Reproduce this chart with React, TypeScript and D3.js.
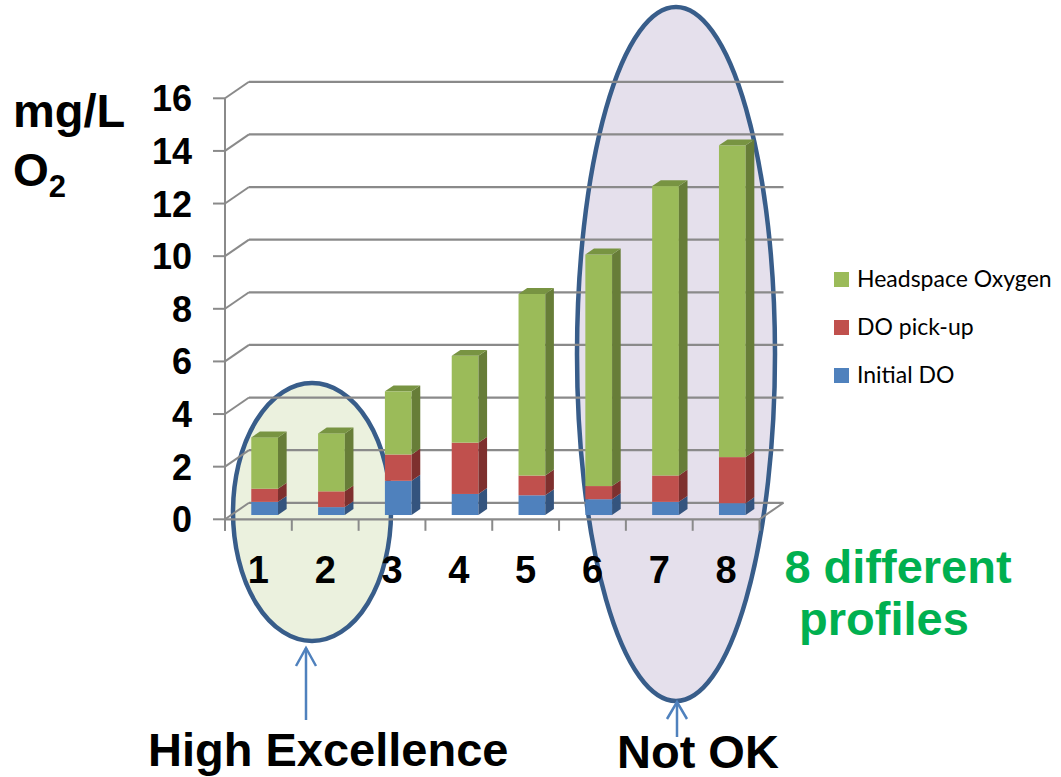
import React from "react";
import * as d3 from "d3";

// Profiles and their stacked oxygen components (mg/L O2)
const categories = ["1", "2", "3", "4", "5", "6", "7", "8"];
const initialDO = [0.5, 0.3, 1.3, 0.8, 0.75, 0.6, 0.5, 0.45];
const doPickup = [0.5, 0.6, 1.0, 1.95, 0.75, 0.5, 1.0, 1.75];
const headspaceO2 = [1.95, 2.2, 2.4, 3.3, 6.9, 8.8, 11.0, 11.85];
const yTicks = [0, 2, 4, 6, 8, 10, 12, 14, 16];
const seriesKeys = ["initial", "pickup", "headspace"];
const seriesNames = ["Initial DO", "DO pick-up", "Headspace Oxygen"];

const COLORS: Record<string, { front: string; side: string; top: string }> = {
  initial: { front: "#4F81BD", side: "#34547E", top: "#3F6A9E" },
  pickup: { front: "#C0504D", side: "#7E302E", top: "#A03F3C" },
  headspace: { front: "#9BBB59", side: "#677D38", top: "#789442" },
};

const rows = categories.map((c, i) => ({
  cat: c,
  initial: initialDO[i],
  pickup: doPickup[i],
  headspace: headspaceO2[i],
}));

// 3D frame geometry
const X0 = 225;
const X1 = 759.5;
const DEPTH_X = 24;
const DEPTH_Y = -16.5;
const BAR_F0 = 0.26;
const BAR_F1 = 0.62;

const x = d3.scaleBand<string>().domain(categories).range([X0, X1]).padding(0);
const y = d3.scaleLinear().domain([0, 16]).range([519.3, 98.3]);

const stacked = d3.stack<any>().keys(seriesKeys)(rows);

const GRID = "#8A8A8A";
const ARIAL = "'Liberation Sans', Arial, sans-serif";

function poly(pts: [number, number][]) {
  return pts.map((p) => p.join(",")).join(" ");
}

export default function App() {
  const step = x.step();
  const barW = step * 0.4;
  const bx0 = BAR_F0 * DEPTH_X;
  const by0 = BAR_F0 * DEPTH_Y;
  const bdx = (BAR_F1 - BAR_F0) * DEPTH_X;
  const bdy = (BAR_F1 - BAR_F0) * DEPTH_Y;

  const topIndex = seriesKeys.length - 1;

  return (
    <svg
      width={1061}
      height={777}
      style={{ position: "absolute", left: 0, top: 0, background: "#fff" }}
    >
      {/* highlight ellipses behind the chart */}
      <ellipse cx={312} cy={512} rx={79} ry={129} fill="#EBF1DE" stroke="#385D8A" strokeWidth={4.5} />
      <ellipse cx={676} cy={354} rx={99} ry={347} fill="#E5E0EC" stroke="#385D8A" strokeWidth={4.5} />

      {/* back wall gridlines and left wall diagonals */}
      {yTicks.map((v) => (
        <g key={"g" + v}>
          <line
            x1={X0 + DEPTH_X}
            x2={X1 + DEPTH_X}
            y1={y(v) + DEPTH_Y}
            y2={y(v) + DEPTH_Y}
            stroke={GRID}
            strokeWidth={2.2}
          />
          <line
            x1={X0}
            y1={y(v)}
            x2={X0 + DEPTH_X}
            y2={y(v) + DEPTH_Y}
            stroke={GRID}
            strokeWidth={2}
          />
          <line x1={X0 - 12} x2={X0} y1={y(v)} y2={y(v)} stroke={GRID} strokeWidth={2} />
        </g>
      ))}

      {/* floor */}
      <line x1={X0} x2={X1} y1={y(0)} y2={y(0)} stroke={GRID} strokeWidth={2.2} />
      <line x1={X1} y1={y(0)} x2={X1 + DEPTH_X} y2={y(0) + DEPTH_Y} stroke={GRID} strokeWidth={2} />
      {/* vertical axis */}
      <line x1={X0} x2={X0} y1={y(16)} y2={y(0) + 11.5} stroke={GRID} strokeWidth={2} />
      {/* category ticks */}
      {categories.concat(["end"]).map((c, i) => {
        const xx = X0 + i * step;
        return <line key={"t" + i} x1={xx} x2={xx} y1={y(0)} y2={y(0) + 11.5} stroke={GRID} strokeWidth={2} />;
      })}

      {/* stacked 3D bars */}
      {categories.map((c, ci) => {
        const left = (x(c) as number) + (step - barW) / 2 + bx0;
        const right = left + barW;
        return (
          <g key={"bar" + c}>
            {stacked.map((s, si) => {
              const d = s[ci];
              const yb = y(d[0]) + by0;
              const yt = y(d[1]) + by0;
              const col = COLORS[seriesKeys[si]];
              return (
                <g key={seriesKeys[si]}>
                  <rect x={left} y={yt} width={barW} height={yb - yt} fill={col.front} />
                  <polygon
                    points={poly([
                      [right, yt],
                      [right + bdx, yt + bdy],
                      [right + bdx, yb + bdy],
                      [right, yb],
                    ])}
                    fill={col.side}
                  />
                  {si === topIndex && (
                    <polygon
                      points={poly([
                        [left, yt],
                        [right, yt],
                        [right + bdx, yt + bdy],
                        [left + bdx, yt + bdy],
                      ])}
                      fill={col.top}
                    />
                  )}
                </g>
              );
            })}
          </g>
        );
      })}

      {/* y tick labels */}
      {yTicks.map((v) => (
        <text
          key={"yl" + v}
          x={192}
          y={y(v) + 13}
          textAnchor="end"
          fontFamily={ARIAL}
          fontWeight="bold"
          fontSize={36}
          fill="#000"
        >
          {v}
        </text>
      ))}

      {/* category labels */}
      {categories.map((c) => (
        <text
          key={"xl" + c}
          x={(x(c) as number) + step / 2}
          y={583}
          textAnchor="middle"
          fontFamily={ARIAL}
          fontWeight="bold"
          fontSize={38}
          fill="#000"
        >
          {c}
        </text>
      ))}

      {/* unit label */}
      <text x={13} y={127} fontFamily={ARIAL} fontWeight="bold" fontSize={47} fill="#000">
        mg/L
      </text>
      <text x={13} y={186} fontFamily={ARIAL} fontWeight="bold" fontSize={46} fill="#000">
        O
        <tspan fontSize={31} dy={11}>
          2
        </tspan>
      </text>

      {/* legend */}
      {[2, 1, 0].map((si, i) => (
        <g key={"lg" + si}>
          <rect x={834} y={272 + i * 48} width={15} height={15} fill={COLORS[seriesKeys[si]].front} />
          <text
            x={857}
            y={287 + i * 48}
            fontFamily="Lato, 'Open Sans', sans-serif"
            fontSize={23}
            fill="#000"
          >
            {seriesNames[si]}
          </text>
        </g>
      ))}

      {/* side note */}
      <text x={898} y={583} textAnchor="middle" fontFamily={ARIAL} fontWeight="bold" fontSize={47} fill="#00B050">
        8 different
      </text>
      <text x={884} y={635} textAnchor="middle" fontFamily={ARIAL} fontWeight="bold" fontSize={47} fill="#00B050">
        profiles
      </text>

      {/* arrows */}
      <g stroke="#4F81BD" strokeWidth={2.5} fill="none">
        <line x1={306} y1={720} x2={306} y2={648} />
        <polyline points="296,666 306,648 316,666" />
        <line x1={677} y1={737} x2={677} y2={702} />
        <polyline points="667,719 677,702 687,719" />
      </g>

      {/* annotations */}
      <text x={148} y={766} fontFamily={ARIAL} fontWeight="bold" fontSize={47} fill="#000">
        High Excellence
      </text>
      <text x={617} y={768} fontFamily={ARIAL} fontWeight="bold" fontSize={47} fill="#000">
        Not OK
      </text>
    </svg>
  );
}
